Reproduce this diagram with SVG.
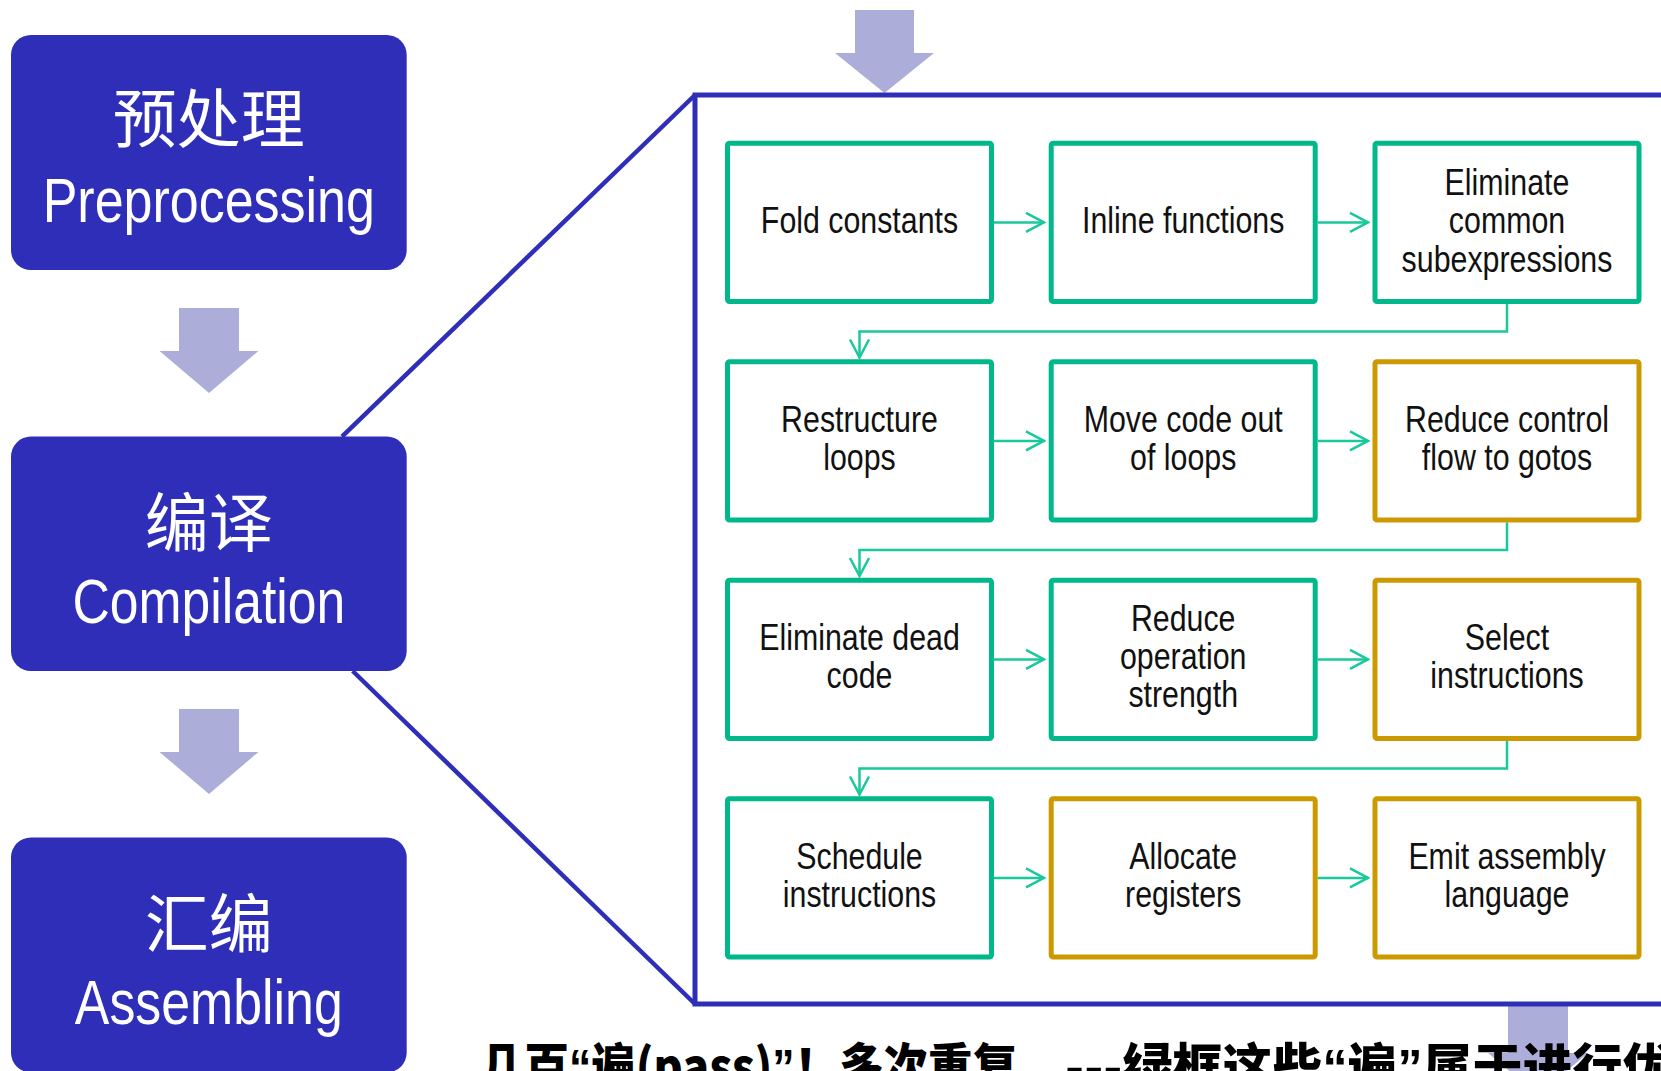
<svg xmlns="http://www.w3.org/2000/svg" width="1661" height="1071" viewBox="0 0 1661 1071">
<style>
.stage{fill:#2E2EB8;}
.cjk{font-family:"Noto Sans CJK SC",sans-serif;font-size:64px;fill:#fff;text-anchor:middle;}
.lat{font-family:"Liberation Sans",Arial,sans-serif;font-size:63px;fill:#fff;text-anchor:middle;}
.big{fill:#ACAED9;}
.panel{fill:none;stroke:#2E2EB8;stroke-width:5;}
.diag{stroke:#2E2EB8;stroke-width:4.5;fill:none;}
.g{fill:#fff;stroke:#00B88A;stroke-width:5;}
.o{fill:#fff;stroke:#CC9900;stroke-width:5;}
.t{font-family:"Liberation Sans",Arial,sans-serif;font-size:37px;fill:#111;text-anchor:middle;}
.c{fill:none;stroke:#19C89B;stroke-width:2.5;}
.note{font-family:"Noto Sans CJK SC",sans-serif;font-size:50px;font-weight:900;fill:#000;}
.q{font-family:"Liberation Sans",Arial,sans-serif;font-weight:700;}
</style>
<defs>
<marker id="ah" viewBox="-20 -12 22 24" markerWidth="22" markerHeight="24" refX="0" refY="0" orient="auto" markerUnits="userSpaceOnUse">
<path d="M-18,-9.5 L0,0 L-18,9.5" fill="none" stroke="#19C89B" stroke-width="2.5"/>
</marker>
</defs>

<g id="flow-arrows">
<polygon class="big" points="855,10 914,10 914,53 934,53 884.5,93 835,53 855,53"/>
<polygon class="big" points="179,308 239,308 239,351 258.5,351 209,393 159.5,351 179,351"/>
<polygon class="big" points="179,709 239,709 239,752 258.5,752 209,794 159.5,752 179,752"/>
<polygon class="big" points="1508,1005 1568,1005 1568,1053 1588,1053 1538,1095 1488,1053 1508,1053"/>
</g>

<g id="zoom-panel">
<line class="diag" x1="342" y1="436.6" x2="695" y2="95"/>
<line class="diag" x1="352.7" y1="671" x2="695" y2="1004"/>
<rect class="panel" x="695" y="95" width="1100" height="909"/>
</g>

<g id="preprocessing">
<rect class="stage" x="11" y="35" width="395.7" height="235" rx="20"/>
<text class="cjk" x="208.8" y="142">预处理</text>
<text class="lat" transform="translate(208.8,221.7) scale(0.825,1)" x="0" y="0">Preprocessing</text>
</g>
<g id="compilation">
<rect class="stage" x="11" y="436.6" width="395.7" height="234.4" rx="20"/>
<text class="cjk" x="208.8" y="546">编译</text>
<text class="lat" transform="translate(208.8,623.4) scale(0.82,1)" x="0" y="0">Compilation</text>
</g>
<g id="assembling">
<rect class="stage" x="11" y="837.5" width="395.7" height="235" rx="20"/>
<text class="cjk" x="208.8" y="947">汇编</text>
<text class="lat" transform="translate(208.8,1024) scale(0.823,1)" x="0" y="0">Assembling</text>
</g>

<g id="connectors">
<line class="c" x1="994" y1="222.4" x2="1044" y2="222.4" marker-end="url(#ah)"/>
<line class="c" x1="1317.7" y1="222.4" x2="1368" y2="222.4" marker-end="url(#ah)"/>
<path class="c" d="M1507,303.8 V331.6 H859.5 V357.5" marker-end="url(#ah)"/>
<line class="c" x1="994" y1="440.9" x2="1044" y2="440.9" marker-end="url(#ah)"/>
<line class="c" x1="1317.7" y1="440.9" x2="1368" y2="440.9" marker-end="url(#ah)"/>
<path class="c" d="M1507,522.5 V550.1 H859.5 V576" marker-end="url(#ah)"/>
<line class="c" x1="994" y1="659.4" x2="1044" y2="659.4" marker-end="url(#ah)"/>
<line class="c" x1="1317.7" y1="659.4" x2="1368" y2="659.4" marker-end="url(#ah)"/>
<path class="c" d="M1507,741 V768.6 H859.5 V794.5" marker-end="url(#ah)"/>
<line class="c" x1="994" y1="877.9" x2="1044" y2="877.9" marker-end="url(#ah)"/>
<line class="c" x1="1317.7" y1="877.9" x2="1368" y2="877.9" marker-end="url(#ah)"/>
</g>

<g id="fold-constants">
<rect class="g" x="727.5" y="143.3" width="264" height="158.2" rx="2"/>
<text class="t" transform="translate(859.5,0) scale(0.82,1)"><tspan x="0" y="233.4">Fold constants</tspan></text>
</g>
<g id="inline-functions">
<rect class="g" x="1051.2" y="143.3" width="264" height="158.2" rx="2"/>
<text class="t" transform="translate(1183.2,0) scale(0.82,1)"><tspan x="0" y="233.4">Inline functions</tspan></text>
</g>
<g id="eliminate-cse">
<rect class="g" x="1375" y="143.3" width="264" height="158.2" rx="2"/>
<text class="t" transform="translate(1507,0) scale(0.82,1)"><tspan x="0" y="195">Eliminate</tspan><tspan x="0" y="233.4">common</tspan><tspan x="0" y="271.8">subexpressions</tspan></text>
</g>

<g id="restructure-loops">
<rect class="g" x="727.5" y="361.8" width="264" height="158.2" rx="2"/>
<text class="t" transform="translate(859.5,0) scale(0.82,1)"><tspan x="0" y="432">Restructure</tspan><tspan x="0" y="470.4">loops</tspan></text>
</g>
<g id="move-code">
<rect class="g" x="1051.2" y="361.8" width="264" height="158.2" rx="2"/>
<text class="t" transform="translate(1183.2,0) scale(0.82,1)"><tspan x="0" y="432">Move code out</tspan><tspan x="0" y="470.4">of loops</tspan></text>
</g>
<g id="reduce-control">
<rect class="o" x="1375" y="361.8" width="264" height="158.2" rx="2"/>
<text class="t" transform="translate(1507,0) scale(0.82,1)"><tspan x="0" y="432">Reduce control</tspan><tspan x="0" y="470.4">flow to gotos</tspan></text>
</g>

<g id="eliminate-dead">
<rect class="g" x="727.5" y="580.3" width="264" height="158.2" rx="2"/>
<text class="t" transform="translate(859.5,0) scale(0.82,1)"><tspan x="0" y="650.5">Eliminate dead</tspan><tspan x="0" y="688.5">code</tspan></text>
</g>
<g id="reduce-strength">
<rect class="g" x="1051.2" y="580.3" width="264" height="158.2" rx="2"/>
<text class="t" transform="translate(1183.2,0) scale(0.82,1)"><tspan x="0" y="631.5">Reduce</tspan><tspan x="0" y="669.5">operation</tspan><tspan x="0" y="707.5">strength</tspan></text>
</g>
<g id="select-instructions">
<rect class="o" x="1375" y="580.3" width="264" height="158.2" rx="2"/>
<text class="t" transform="translate(1507,0) scale(0.82,1)"><tspan x="0" y="650.5">Select</tspan><tspan x="0" y="688.5">instructions</tspan></text>
</g>

<g id="schedule-instructions">
<rect class="g" x="727.5" y="798.8" width="264" height="158.2" rx="2"/>
<text class="t" transform="translate(859.5,0) scale(0.82,1)"><tspan x="0" y="869">Schedule</tspan><tspan x="0" y="907.4">instructions</tspan></text>
</g>
<g id="allocate-registers">
<rect class="o" x="1051.2" y="798.8" width="264" height="158.2" rx="2"/>
<text class="t" transform="translate(1183.2,0) scale(0.82,1)"><tspan x="0" y="869">Allocate</tspan><tspan x="0" y="907.4">registers</tspan></text>
</g>
<g id="emit-assembly">
<rect class="o" x="1375" y="798.8" width="264" height="158.2" rx="2"/>
<text class="t" transform="translate(1507,0) scale(0.82,1)"><tspan x="0" y="869">Emit assembly</tspan><tspan x="0" y="907.4">language</tspan></text>
</g>

<g id="note">
<text class="note" x="480" y="1085" textLength="537" lengthAdjust="spacingAndGlyphs">几百<tspan class="q">“</tspan>遍(pass)<tspan class="q">”</tspan>！多次重复</text>
<text class="note" x="1065" y="1085">---绿框这些<tspan class="q">“</tspan>遍<tspan class="q">”</tspan>属于进行优化</text>
</g>
</svg>
